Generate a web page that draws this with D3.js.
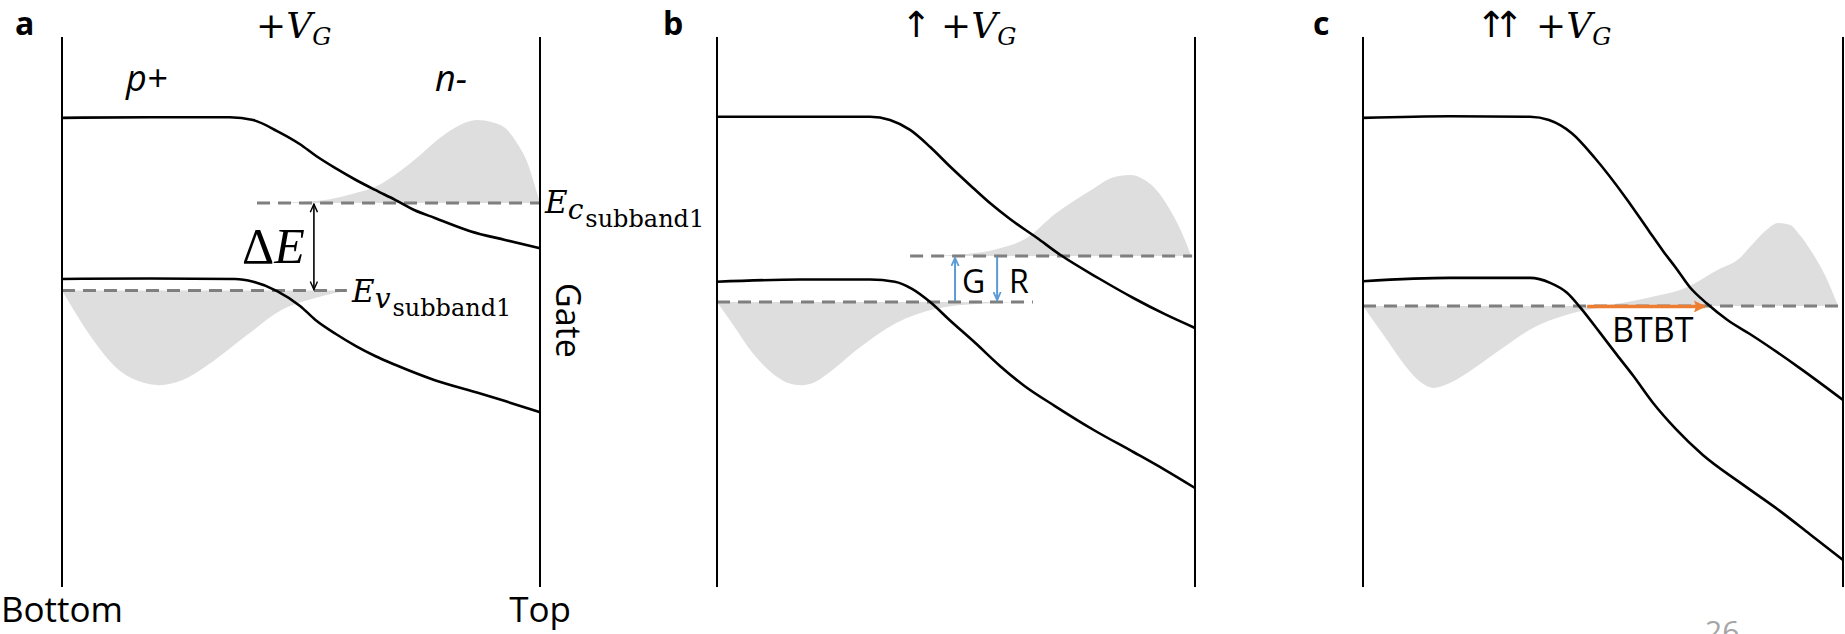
<!DOCTYPE html>
<html>
<head>
<meta charset="utf-8">
<script src="https://cdn.jsdelivr.net/npm/d3@7"></script>
<style>
  html, body { margin: 0; padding: 0; background: #fff; }
  svg { display: block; }
</style>
</head>
<body>
<div id="chart"></div>
<script>
var svgWidth = 1845;
var svgHeight = 634;

// panels
var panelLabels = ["a", "b", "c"];
var titleArrows = ["", "\u2191", "\u2191\u2191"];

// band edges as [position across film (0 = bottom, 100 = top), energy (arb. units)]
var cbA = [[0, 85.3], [18.4, 85.4], [35.1, 85.4], [40, 84.9], [45, 82.9], [49.8, 80.5], [53.1, 78.4],
  [57.3, 76.1], [61.5, 74.0], [65.5, 72.2], [69.7, 70.4], [73.8, 68.5], [78, 67.1], [85.4, 64.7],
  [92.7, 63.1], [100, 61.6]];
var vbA = [[0, 56.0], [18.4, 56.1], [36.2, 56.0], [40, 55.5], [45, 53.8], [49.8, 51.1], [53.1, 48.5],
  [57.3, 46.0], [61.5, 43.8], [65.5, 42.0], [69.7, 40.4], [78, 37.6], [86.2, 35.5], [92.7, 33.8],
  [100, 31.8]];

var cbB = [[0, 85.5], [17.4, 85.5], [32, 85.5], [36.2, 84.9], [40.4, 83.1], [44.6, 80.0], [48.7, 76.5],
  [52.9, 73.1], [57.1, 69.8], [61.3, 66.9], [66.9, 63.5], [71.8, 60.4], [80.1, 56.0], [87.2, 52.5],
  [93.7, 49.6], [100, 47.1]];
var vbB = [[0, 55.5], [17.4, 55.9], [32, 55.9], [37.2, 55.5], [40.8, 54.2], [44.6, 51.8], [48.7, 48.5],
  [54, 44.4], [59.2, 40.2], [64.4, 36.5], [70.7, 32.9], [78.9, 28.5], [87.2, 24.5], [93.7, 21.3],
  [100, 18.0]];

var cbC = [[0, 85.3], [18.1, 85.6], [34.8, 85.5], [38.75, 84.9], [43.5, 82.5], [48.3, 78.0], [54.8, 70.7],
  [59.6, 64.7], [62.5, 61.1], [65.2, 58.0], [68.1, 54.5], [71.7, 51.5], [76, 48.5], [80.6, 46.0],
  [91, 39.8], [100, 34.0]];
var vbC = [[0, 55.6], [18.1, 56.2], [34.8, 56.2], [39, 55.3], [42.5, 53.5], [45.2, 50.9], [49.4, 46.2],
  [52.9, 42.2], [56.3, 38.4], [60.4, 33.5], [65.2, 28.7], [70.8, 24.0], [79, 18.7], [86.9, 13.8],
  [93.1, 9.6], [100, 4.9]];

// subband levels (dashed) and the span each dashed line covers
var ecLevel = [69.8, 60.2, 51.1];
var evLevel = [53.9, 51.8, 51.1];
var ecSpan = [[40.8, 100], [40.4, 99.4], null];
var evSpan = [[0, 59.6], [0, 66.1], [0, 99]];

// carrier densities (grey), upper edge above Ec, lower edge below Ev
var nA = [[40.8, 69.8], [49.8, 70.0], [56.1, 70.5], [60.9, 71.5], [65.9, 72.9], [70.7, 75.6], [74.9, 78.5],
  [78, 80.9], [82.2, 83.5], [86.8, 84.9], [90, 84.5], [92.9, 83.3], [95.4, 80.4], [97.3, 77.3],
  [98.7, 73.6], [100, 69.8]];
var pA = [[0, 53.9], [2.7, 50.0], [6.7, 44.7], [11.7, 39.6], [16.5, 37.3], [20.3, 36.7], [25.1, 37.6],
  [31.4, 40.9], [38.7, 45.8], [46, 50.4], [53.6, 52.7], [59.6, 53.9]];

var nB = [[44.6, 60.2], [50, 60.4], [59.2, 61.6], [64.9, 63.5], [70.7, 67.8], [78.9, 72.5], [82.6, 74.4],
  [86.4, 74.9], [89.5, 74.0], [91.4, 72.7], [95.6, 67.3], [97.9, 63.1], [99.2, 60.2]];
var pB = [[0, 51.8], [3.5, 47.5], [7.5, 42.5], [12.6, 38.2], [15.2, 37.0], [17.6, 36.7], [20.3, 37.2],
  [23.5, 39.0], [29.5, 43.3], [37.5, 48.0], [45.8, 50.6], [55, 51.5], [65.7, 51.8]];

var nC = [[46.7, 51.1], [53.5, 51.6], [59.8, 52.7], [67.5, 54.5], [73.75, 57.6], [78.5, 59.8], [80.6, 61.8],
  [83.75, 64.7], [86.5, 66.2], [89, 65.8], [91, 64.0], [93.5, 60.9], [96.25, 56.7], [99, 51.1]];
var pC = [[0, 51.1], [5, 44.9], [9, 40.0], [11.9, 37.3], [14.6, 36.2], [18.1, 37.1], [23.5, 40.0],
  [28.5, 43.1], [35.4, 47.1], [42.5, 49.5], [46.7, 50.4], [53.5, 50.9]];

// annotation positions (film position)
var deltaEx = 52.7;
var genX = 49.8;
var recX = 58.6;
var btbtSpan = [46.7, 71.25];

var cbData = [cbA, cbB, cbC];
var vbData = [vbA, vbB, vbC];
var nData = [nA, nB, nC];
var pData = [pA, pB, pC];

// layout
var panelLeft = [62, 717, 1363];
var panelRight = [540, 1195, 1843];
var axisTop = 37;
var axisBottom = 587;

var svg = d3.select("#chart")
  .append("svg")
  .attr("width", svgWidth)
  .attr("height", svgHeight);

var defs = svg.append("defs");

// open chevron arrow heads
function chevron(id, color, w) {
  defs.append("marker")
    .attr("id", id)
    .attr("viewBox", "0 0 10 10")
    .attr("refX", 9)
    .attr("refY", 5)
    .attr("markerWidth", 10)
    .attr("markerHeight", 9)
    .attr("markerUnits", "userSpaceOnUse")
    .attr("orient", "auto-start-reverse")
    .append("path")
    .attr("d", "M0,1 L9,5 L0,9")
    .attr("fill", "none")
    .attr("stroke", color)
    .attr("stroke-width", w);
}
chevron("headBlack", "#000", 1.6);
chevron("headBlue", "#5b9bd5", 2);

defs.append("marker")
  .attr("id", "headOrange")
  .attr("viewBox", "0 0 12 12")
  .attr("refX", 11)
  .attr("refY", 6)
  .attr("markerWidth", 13)
  .attr("markerHeight", 12)
  .attr("markerUnits", "userSpaceOnUse")
  .attr("orient", "auto")
  .append("path")
  .attr("d", "M0,0 L12,6 L0,12 L2,6 Z")
  .attr("fill", "#ed7d31");

var sans = "'Open Sans', 'Noto Sans', sans-serif";
var serif = "'DejaVu Serif', serif";

// title placement, offset from left boundary
var titleOffset = [194, 224, 173];
var arrowOffset = [0, -40, -60];

panelLabels.forEach(function(label, i) {
  var x = d3.scaleLinear().domain([0, 100]).range([panelLeft[i], panelRight[i]]);
  var y = d3.scaleLinear().domain([0, 100]).range([axisBottom, axisTop]);

  var g = svg.append("g").attr("class", "panel-" + label);

  var line = d3.line()
    .x(d => x(d[0]))
    .y(d => y(d[1]))
    .curve(d3.curveMonotoneX);

  function fill(data, level) {
    return d3.area()
      .x(d => x(d[0]))
      .y0(y(level))
      .y1(d => y(d[1]))
      .curve(d3.curveMonotoneX)(data);
  }

  // grey carrier distributions
  g.append("path")
    .attr("d", fill(nData[i], ecLevel[i]))
    .attr("fill", "#dedede");
  g.append("path")
    .attr("d", fill(pData[i], evLevel[i]))
    .attr("fill", "#dedede");

  // dashed subband levels
  [[ecSpan[i], ecLevel[i]], [evSpan[i], evLevel[i]]].forEach(function(s) {
    if (!s[0]) return;
    g.append("line")
      .attr("x1", x(s[0][0]))
      .attr("x2", x(s[0][1]))
      .attr("y1", y(s[1]))
      .attr("y2", y(s[1]))
      .attr("stroke", "#7f7f7f")
      .attr("stroke-width", 3)
      .attr("stroke-dasharray", "13,8");
  });

  // bottom / top boundaries
  [0, 100].forEach(function(v) {
    g.append("line")
      .attr("x1", x(v)).attr("x2", x(v))
      .attr("y1", axisTop).attr("y2", axisBottom)
      .attr("stroke", "#000")
      .attr("stroke-width", 2);
  });

  // conduction and valence band edges
  [cbData[i], vbData[i]].forEach(function(band) {
    g.append("path")
      .attr("d", line(band))
      .attr("fill", "none")
      .attr("stroke", "#000")
      .attr("stroke-width", 2.6);
  });

  // panel letter
  g.append("text")
    .attr("x", panelLeft[i] - [47, 54, 50][i])
    .attr("y", 35)
    .attr("font-family", sans)
    .attr("font-weight", "bold")
    .attr("font-size", 32)
    .text(label);

  // gate voltage title
  var titleX = panelLeft[i] + titleOffset[i];
  if (titleArrows[i]) {
    g.append("text")
      .attr("x", titleX + arrowOffset[i])
      .attr("y", 37)
      .attr("font-family", "'DejaVu Sans', sans-serif")
      .attr("font-size", 36)
      .attr("letter-spacing", -13)
      .text(titleArrows[i]);
  }
  var title = g.append("text")
    .attr("x", titleX)
    .attr("y", 38)
    .attr("font-family", serif)
    .attr("font-size", 36);
  title.append("tspan").text("+");
  title.append("tspan").attr("font-style", "italic").text("V");
  title.append("tspan").attr("font-style", "italic").attr("font-size", 24).attr("dy", 7).text("G");
});

// ---- panel a annotations
var xa = d3.scaleLinear().domain([0, 100]).range([panelLeft[0], panelRight[0]]);
var ya = d3.scaleLinear().domain([0, 100]).range([axisBottom, axisTop]);
var ga = svg.select(".panel-a");

ga.append("text").attr("x", 126).attr("y", 91)
  .attr("font-family", sans).attr("font-style", "italic").attr("font-size", 36).text("p+");
ga.append("text").attr("x", 435).attr("y", 91)
  .attr("font-family", sans).attr("font-style", "italic").attr("font-size", 36).text("n-");

ga.append("line")
  .attr("x1", xa(deltaEx)).attr("x2", xa(deltaEx))
  .attr("y1", ya(ecLevel[0]) + 1).attr("y2", ya(evLevel[0]) - 1)
  .attr("stroke", "#000").attr("stroke-width", 1.6)
  .attr("marker-start", "url(#headBlack)")
  .attr("marker-end", "url(#headBlack)");

var dE = ga.append("text").attr("x", 242).attr("y", 263)
  .attr("font-family", "'Liberation Serif', serif").attr("font-size", 50);
dE.append("tspan").text("\u0394");
dE.append("tspan").attr("font-style", "italic").text("E");

function levelLabel(g, x0, y0, sub) {
  var t = g.append("text").attr("x", x0).attr("y", y0).attr("font-family", serif);
  t.append("tspan").attr("font-style", "italic").attr("font-size", 31).text("E");
  t.append("tspan").attr("font-style", "italic").attr("font-size", 28).attr("dy", 6).text(sub);
  t.append("tspan").attr("font-size", 24).attr("dy", 8).attr("dx", 2).text("subband1");
}
levelLabel(ga, 545, 213, "c");
levelLabel(ga, 352, 302, "v");

ga.append("text")
  .attr("transform", "translate(556,283) rotate(90)")
  .attr("font-family", sans).attr("font-size", 34).text("Gate");

ga.append("text").attr("x", xa(0)).attr("y", 622).attr("text-anchor", "middle")
  .attr("font-family", sans).attr("font-size", 35).text("Bottom");
ga.append("text").attr("x", xa(100)).attr("y", 622).attr("text-anchor", "middle")
  .attr("font-family", sans).attr("font-size", 35).text("Top");

// ---- panel b annotations
var xb = d3.scaleLinear().domain([0, 100]).range([panelLeft[1], panelRight[1]]);
var gb = svg.select(".panel-b");

gb.append("line")
  .attr("x1", xb(genX)).attr("x2", xb(genX))
  .attr("y1", ya(evLevel[1]) - 1).attr("y2", ya(ecLevel[1]) + 2)
  .attr("stroke", "#5b9bd5").attr("stroke-width", 2)
  .attr("marker-end", "url(#headBlue)");
gb.append("line")
  .attr("x1", xb(recX)).attr("x2", xb(recX))
  .attr("y1", ya(ecLevel[1]) + 1).attr("y2", ya(evLevel[1]) - 2)
  .attr("stroke", "#5b9bd5").attr("stroke-width", 2)
  .attr("marker-end", "url(#headBlue)");
gb.append("text").attr("x", xb(genX) + 7).attr("y", 293)
  .attr("font-family", sans).attr("font-size", 32).text("G");
gb.append("text").attr("x", xb(recX) + 12).attr("y", 293)
  .attr("font-family", sans).attr("font-size", 32).text("R");

// ---- panel c annotations
var xc = d3.scaleLinear().domain([0, 100]).range([panelLeft[2], panelRight[2]]);
var gc = svg.select(".panel-c");

gc.append("line")
  .attr("x1", xc(btbtSpan[0])).attr("x2", xc(btbtSpan[1]))
  .attr("y1", ya(evLevel[2]) + 0.5).attr("y2", ya(evLevel[2]) + 0.5)
  .attr("stroke", "#ed7d31").attr("stroke-width", 3.5)
  .attr("marker-end", "url(#headOrange)");
gc.append("text").attr("x", 1612).attr("y", 342)
  .attr("font-family", sans).attr("font-size", 34).text("BTBT");

// page number (cut by the lower edge, as in the slide)
svg.append("text").attr("x", 1705).attr("y", 642)
  .attr("font-family", sans).attr("font-size", 30).attr("fill", "#a6a6a6").text("26");
</script>
</body>
</html>
